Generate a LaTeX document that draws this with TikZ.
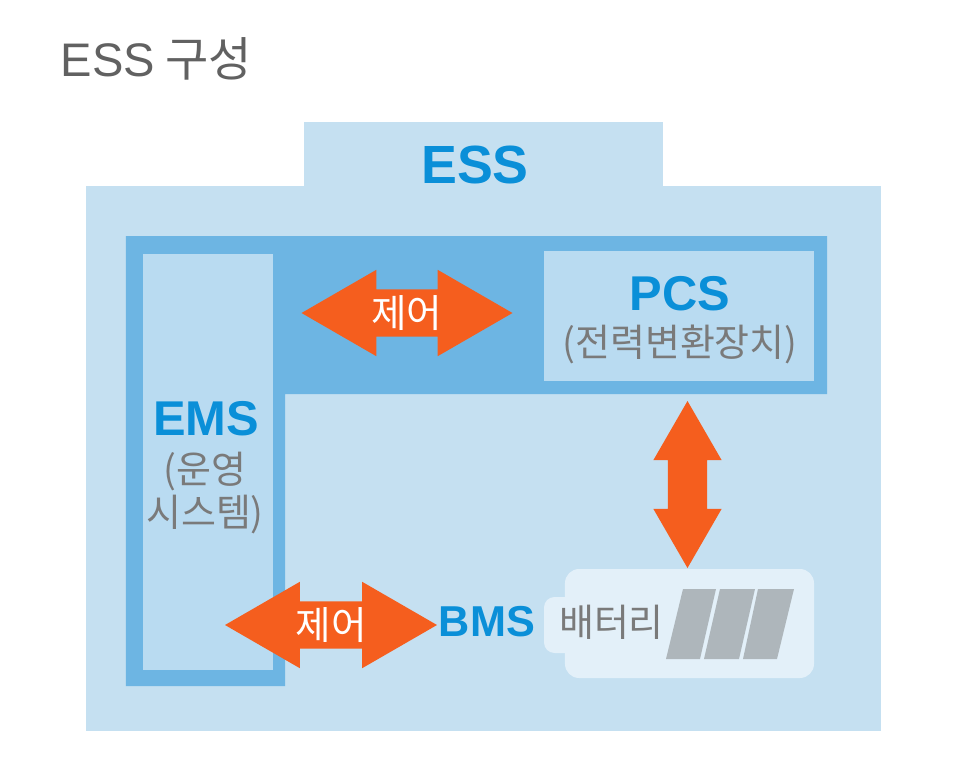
\documentclass[tikz,border=0pt]{standalone}
\usepackage{fontspec}
\usepackage{xcolor}
\setmainfont{Noto Sans CJK KR}
\newfontfamily\latinbold[BoldFont=Liberation Sans Bold]{Liberation Sans}
\usetikzlibrary{shapes.arrows}
\definecolor{essbg}{HTML}{C5E0F1}
\definecolor{framebg}{HTML}{6DB5E3}
\definecolor{boxbg}{HTML}{B9DBF1}
\definecolor{battbg}{HTML}{E3F0F9}
\definecolor{cellgray}{HTML}{AEB6BB}
\definecolor{headblue}{HTML}{0A8FD8}
\definecolor{textgray}{HTML}{7A7A7A}
\definecolor{arroworange}{HTML}{F55E1E}
\tikzset{
  headlabel/.style={text=headblue, font=\latinbold\bfseries\fontsize{13.9}{16}\selectfont, inner sep=0pt},
  sublabel/.style={text=textgray, font=\fontsize{10.8}{12.2}\selectfont, inner sep=0pt, align=center},
  ctrlarrow/.style={double arrow, fill=arroworange, text=white, inner sep=0pt,
    font=\fontsize{11}{12}\selectfont, text height=.37cm, text depth=.09cm,
    minimum height=2.11cm, minimum width=.85cm,
    double arrow head extend=.195cm, double arrow tip angle=60},
}
\begin{document}
\begin{tikzpicture}
\useasboundingbox (0, 0) rectangle (9.66, 7.78);

\fill[essbg] (0.86, 0.47) rectangle (8.81, 5.92);
\fill[essbg] (3.04, 5.92) rectangle (6.63, 6.56);
\fill[framebg] (1.26, 0.92) -- (1.26, 5.42) -- (8.27, 5.42) -- (8.27, 3.84) -- (2.85, 3.84) -- (2.85, 0.92) -- cycle;
\fill[boxbg] (1.43, 1.08) rectangle (2.73, 5.24);
\fill[boxbg] (5.44, 3.97) rectangle (8.14, 5.27);

\fill[battbg, rounded corners=3pt] (5.44, 1.25) rectangle (5.90, 1.81);
\fill[battbg, rounded corners=4pt] (5.65, 1.00) rectangle (8.14, 2.09);
\fill[cellgray] (6.66, 1.19) -- (7.00, 1.19) -- (7.16, 1.89) -- (6.83, 1.89) -- cycle;
\fill[cellgray] (7.04, 1.19) -- (7.39, 1.19) -- (7.55, 1.89) -- (7.20, 1.89) -- cycle;
\fill[cellgray] (7.43, 1.19) -- (7.77, 1.19) -- (7.94, 1.89) -- (7.58, 1.89) -- cycle;

\node[text=black!62, font=\fontsize{13.4}{16}\selectfont, inner sep=0pt] (title) at (1.565, 7.19) {{\latinbold ESS} 구성};
\node[headlabel, font=\latinbold\bfseries\fontsize{15.3}{18}\selectfont] (ess) at (4.75, 6.13) {ESS};
\node[headlabel] (pcs) at (6.80, 4.84) {PCS};
\node[sublabel] (pcssub) at (6.80, 4.34) {(전력변환장치)};
\node[headlabel] (ems) at (2.06, 3.59) {EMS};
\node[sublabel] (emssub) at (2.05, 2.85) {(운영\\시스템)};
\node[headlabel, font=\latinbold\bfseries\fontsize{12.3}{14}\selectfont] (bms) at (4.87, 1.56) {BMS};
\node[sublabel] (batt) at (6.115, 1.56) {배터리};

\node[ctrlarrow] (ctrltop) at (4.07, 4.65) {제어};
\node[ctrlarrow, minimum height=2.12cm] (ctrlbottom) at (3.31, 1.53) {제어};
\node[ctrlarrow, rotate=90, text height=.38cm, text depth=0cm, minimum height=1.67cm, minimum width=.67cm, double arrow head extend=.145cm] (pcsbatt) at (6.875, 2.935) {};
\end{tikzpicture}
\end{document}
